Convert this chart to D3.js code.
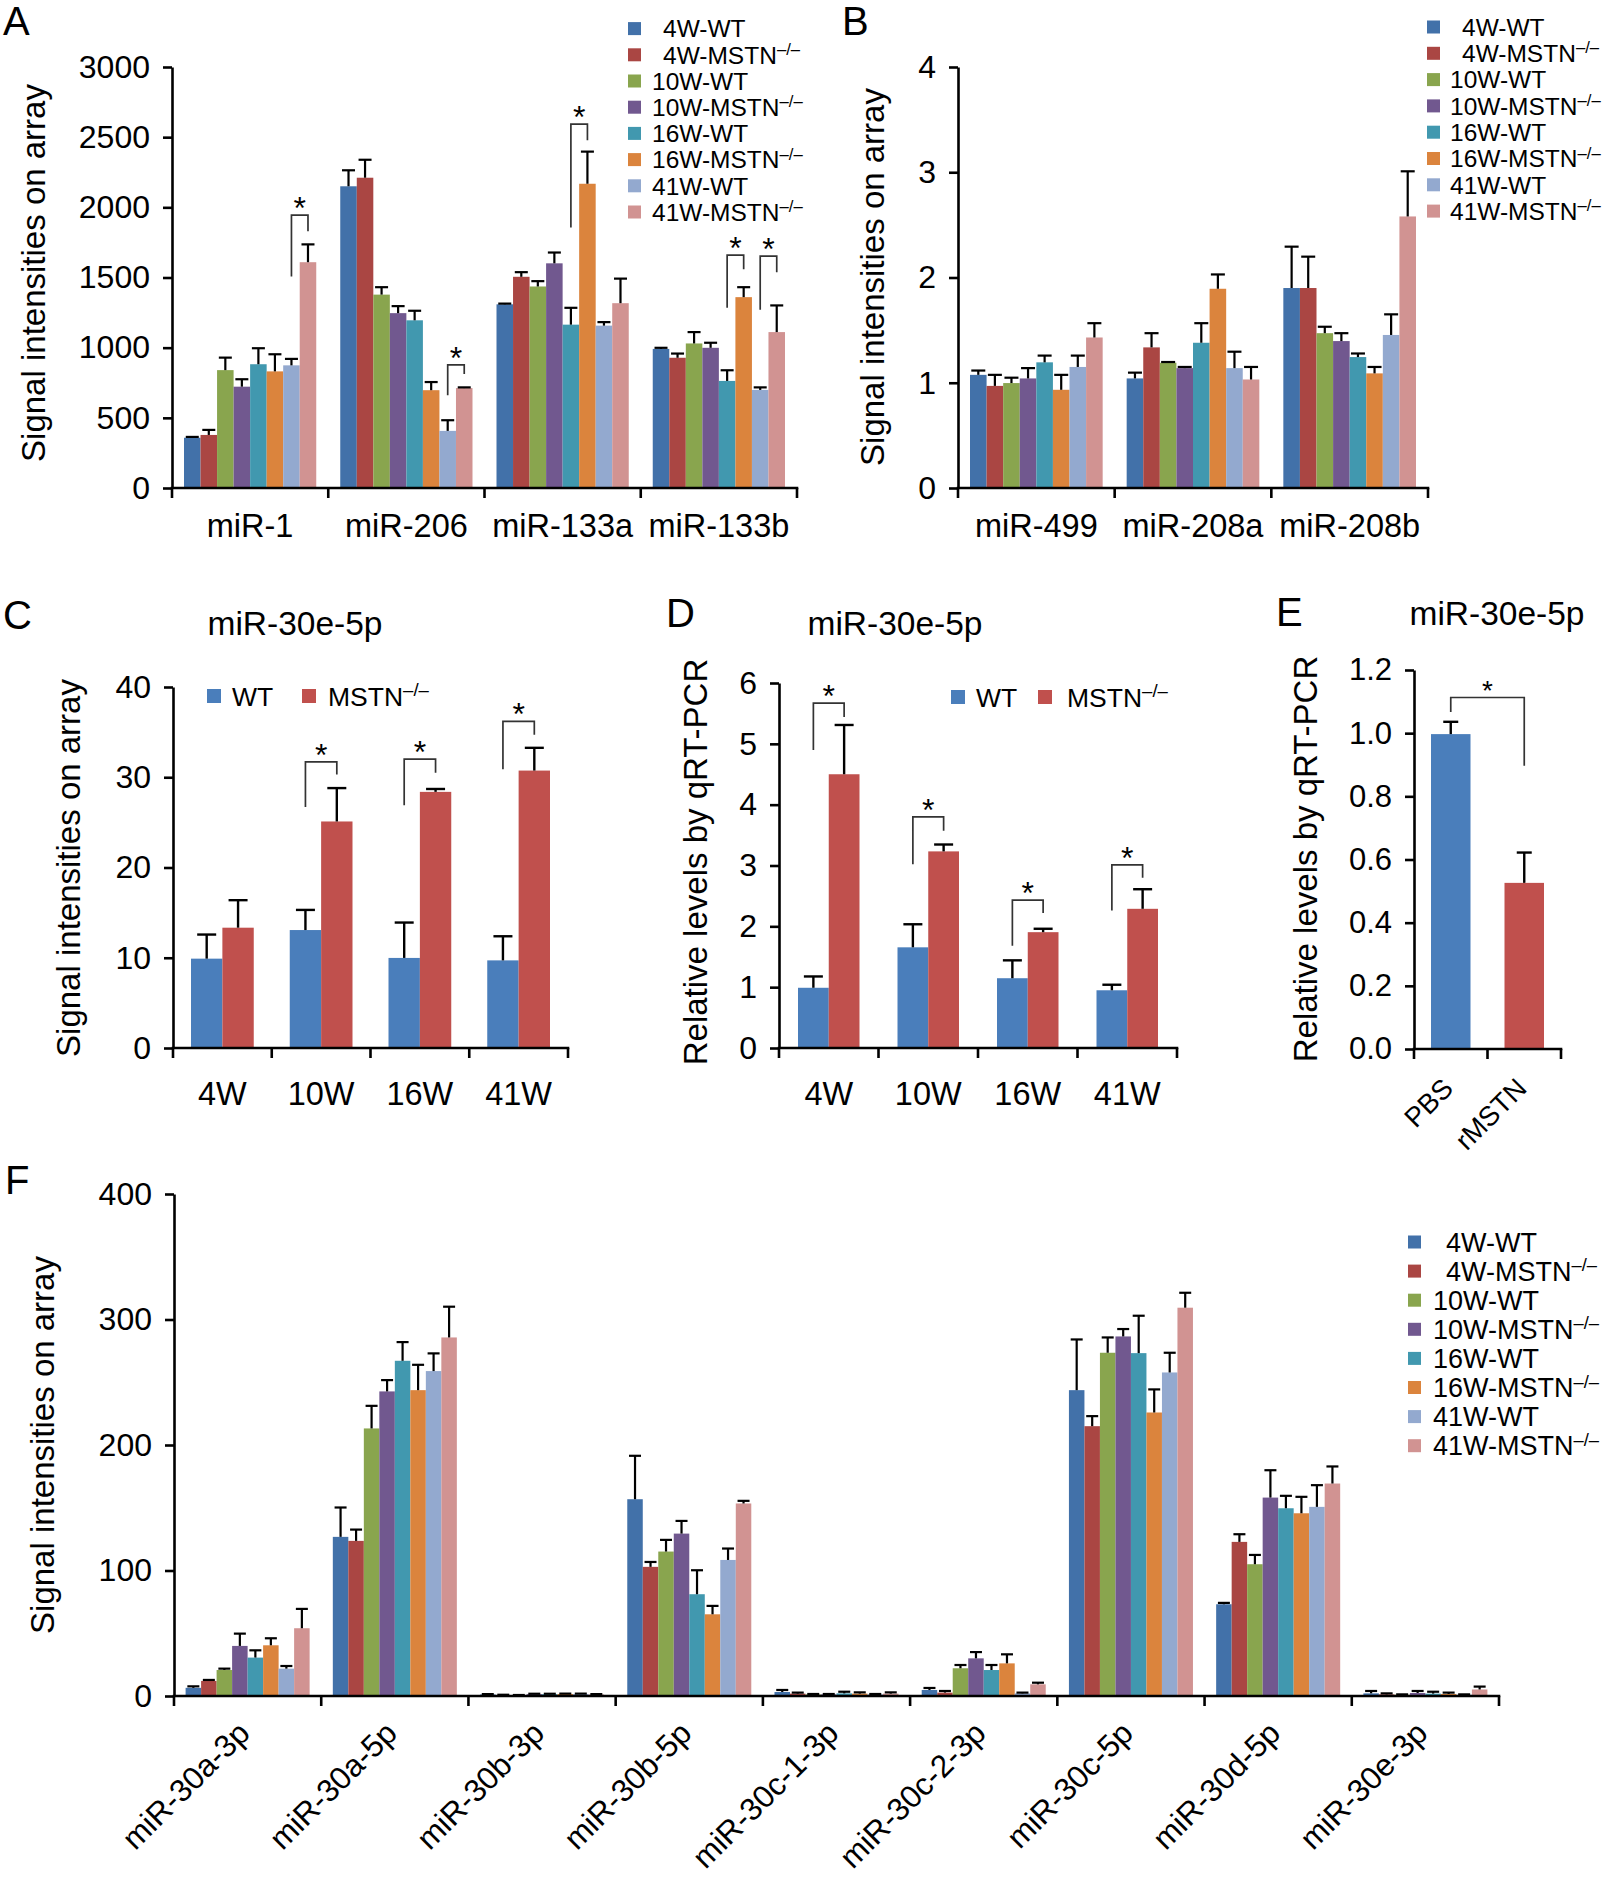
<!DOCTYPE html>
<html><head><meta charset="utf-8">
<script src="https://cdn.jsdelivr.net/npm/d3@7"></script>
<style>
body{margin:0;background:#fff;}
svg text{font-family:"Liberation Sans",Arial,Helvetica,sans-serif;fill:#000;}
</style></head><body>
<svg id="chart" width="1609" height="1880"></svg>
<script>
// ---------------- DATA ----------------
const seriesNames = ["4W-WT","4W-MSTN","10W-WT","10W-MSTN","16W-WT","16W-MSTN","41W-WT","41W-MSTN"];
const seriesColors = ["#4271A9","#AA4643","#89A54E","#71588F","#4198AF","#DB843D","#93A9CF","#D19392"];
const koSup = "\u2013/\u2013";
const pairNames = ["WT","MSTN"];
const pairColors = ["#4A7EBB","#C0504D"];

// Panel A
const catsA = ["miR-1","miR-206","miR-133a","miR-133b"];
const valsA = [
  [358, 378, 840, 722, 882, 831, 874, 1609],
  [2150, 2211, 1378, 1246, 1195, 697, 407, 712],
  [1309, 1505, 1436, 1601, 1164, 2168, 1157, 1317],
  [991, 928, 1030, 999, 763, 1360, 699, 1111]
];
const errA = [
  [6, 36, 89, 53, 114, 122, 46, 127],
  [114, 128, 53, 50, 68, 58, 76, 5],
  [5, 33, 38, 77, 120, 229, 25, 175],
  [8, 30, 81, 36, 76, 71, 18, 190]
];
const ticksA = [0,500,1000,1500,2000,2500,3000];
const sigA = [ // category index, from series, to series, left leg, top, right leg (value units)
  [0, 6, 7, 1507, 1945, 1830],
  [1, 6, 7, 661, 877, 813],
  [2, 4, 5, 1856, 2593, 2478],
  [3, 4, 5, 1284, 1660, 1558],
  [3, 6, 7, 1271, 1652, 1538]
];

// Panel B
const catsB = ["miR-499","miR-208a","miR-208b"];
const valsB = [
  [1.075, 0.970, 0.997, 1.041, 1.194, 0.933, 1.150, 1.430],
  [1.041, 1.336, 1.190, 1.139, 1.380, 1.893, 1.139, 1.031],
  [1.900, 1.900, 1.471, 1.396, 1.244, 1.089, 1.454, 2.580]
];
const errB = [
  [0.041, 0.105, 0.051, 0.098, 0.064, 0.142, 0.108, 0.136],
  [0.055, 0.135, 0.007, 0.011, 0.186, 0.136, 0.156, 0.119],
  [0.393, 0.298, 0.061, 0.075, 0.034, 0.061, 0.196, 0.429]
];
const ticksB = [0,1,2,3,4];

// Panel C
const catsC = ["4W","10W","16W","41W"];
const valsC = [[9.90, 13.33],[13.07, 25.10],[9.98, 28.38],[9.71, 30.74]];
const errC = [[2.67, 3.05],[2.23, 3.70],[3.92, 0.32],[2.67, 2.52]];
const ticksC = [0,10,20,30,40];
const sigC = [[1,0,1,26.7,31.7,30.3],[2,0,1,26.9,32.0,30.5],[3,0,1,30.9,36.2,34.7]];

// Panel D
const catsD = ["4W","10W","16W","41W"];
const valsD = [[0.99, 4.50],[1.655, 3.232],[1.147, 1.904],[0.949, 2.288]];
const errD = [[0.186, 0.81],[0.379, 0.113],[0.294, 0.056],[0.091, 0.322]];
const ticksD = [0,1,2,3,4,5,6];
const sigD = [[0,0,1,4.90,5.67,5.44],[1,0,1,3.02,3.80,3.57],[2,0,1,1.68,2.43,2.22],[3,0,1,2.26,3.01,2.80]];

// Panel E
const catsE = ["PBS","rMSTN"];
const valsE = [[0.997],[0.526]];
const errE = [[0.039],[0.096]];
const ticksE = [0,0.2,0.4,0.6,0.8,1.0,1.2];
const sigE = [1.067, 1.113, 0.897];

// Panel F
const catsF = ["miR-30a-3p","miR-30a-5p","miR-30b-3p","miR-30b-5p","miR-30c-1-3p","miR-30c-2-3p","miR-30c-5p","miR-30d-5p","miR-30e-3p"];
const valsF = [
  [6.5, 12, 20.7, 39.9, 30.6, 40.4, 21.8, 54],
  [126.8, 123.6, 213.2, 242.7, 267.1, 243.7, 258.9, 285.7],
  [1.2, 0.8, 0.6, 1.5, 1.5, 1.6, 1.6, 1.2],
  [156.8, 102.9, 115.1, 129.4, 81.1, 65.1, 108.4, 153.4],
  [3.2, 1.9, 1.3, 1.3, 2.1, 1.9, 1.3, 1.9],
  [4.8, 2.7, 22.1, 30, 20.7, 26, 2.1, 9.3],
  [243.7, 215, 273.5, 286.5, 273.2, 225.9, 257.8, 309.4],
  [73.1, 122.8, 105, 158.1, 149.6, 145.6, 150.7, 169.3],
  [2.1, 1.3, 1.0, 2.4, 1.9, 1.6, 1.0, 5.2]
];
const errF = [
  [1.2, 0.8, 1.1, 9.8, 5.8, 5.6, 2.1, 15.4],
  [23.4, 9, 18, 9, 14.9, 20.2, 14.1, 24.5],
  [0.3, 0.2, 0.2, 0.3, 0.3, 0.3, 0.3, 0.3],
  [34.6, 3.9, 9.3, 10.1, 19.1, 6.7, 9.1, 2.1],
  [1.6, 0.8, 0.3, 0.3, 1.3, 1.0, 0.3, 1.0],
  [1.6, 1.3, 2.6, 5, 4, 7.2, 0.6, 1.3],
  [40.4, 8, 12.2, 5.9, 29.8, 18.4, 15.7, 11.9],
  [1.1, 6.1, 7.4, 21.8, 9.9, 13.1, 17.3, 13.6],
  [1.9, 0.8, 0.3, 1.6, 1.5, 1.1, 0.3, 2.3]
];
const ticksF = [0,100,200,300,400];

// ---------------- DRAWING ----------------
const svg = d3.select("#chart");
const FONT = '"Liberation Sans", Arial, Helvetica, sans-serif';

function supLabel(sel, base, sup, supSize, supDy) {
  sel.append("tspan").text(base);
  if (sup) sel.append("tspan").attr("font-size", supSize).attr("dy", supDy).text(sup);
}

function barPanel(p) {
  const g = svg.append("g");
  const y = d3.scaleLinear().domain([0, p.yMax]).range([p.yBottom, p.yTop]);
  const x0 = d3.scaleBand().domain(p.cats).range([p.xLeft, p.xRight]).padding(0);
  const n = p.values[0].length;
  const x1 = d3.scaleBand().domain(d3.range(n)).range([p.gap, x0.bandwidth() - p.gap]).padding(0);
  const bw = x1.bandwidth();
  p.cats.forEach((c, i) => {
    const cg = g.append("g").attr("transform", `translate(${x0(c)},0)`);
    const rows = p.values[i].map((v, j) => ({v, e: p.errors[i][j], j}));
    cg.selectAll("rect").data(rows).join("rect")
      .attr("x", d => x1(d.j)).attr("y", d => y(d.v))
      .attr("width", bw).attr("height", d => y(0) - y(d.v))
      .attr("fill", d => p.color(i, d.j));
    cg.selectAll("line.ev").data(rows).join("line").attr("class","ev")
      .attr("x1", d => x1(d.j) + bw/2).attr("x2", d => x1(d.j) + bw/2)
      .attr("y1", d => y(d.v)).attr("y2", d => y(d.v + d.e))
      .attr("stroke", "#000").attr("stroke-width", p.errW);
    cg.selectAll("line.ec").data(rows).join("line").attr("class","ec")
      .attr("x1", d => x1(d.j) + bw/2 - p.capW/2).attr("x2", d => x1(d.j) + bw/2 + p.capW/2)
      .attr("y1", d => y(d.v + d.e)).attr("y2", d => y(d.v + d.e))
      .attr("stroke", "#000").attr("stroke-width", p.errW);
  });
  // y axis
  const yAxis = d3.axisLeft(y).tickValues(p.ticks).tickSize(p.tickSize).tickSizeOuter(0)
    .tickPadding(p.tickPad).tickFormat(p.fmt || d3.format("d"));
  const ya = g.append("g").attr("transform", `translate(${p.xLeft},0)`).call(yAxis);
  ya.attr("font-family", FONT).attr("font-size", p.tickFont);
  ya.selectAll("path,line").attr("stroke", "#000").attr("stroke-width", p.axisW);
  ya.selectAll("text").attr("fill", "#000");
  // x axis
  g.append("line").attr("x1", p.xLeft - p.axisW/2).attr("x2", p.xRight + p.axisW/2)
    .attr("y1", y(0)).attr("y2", y(0)).attr("stroke", "#000").attr("stroke-width", p.axisW);
  const bounds = p.cats.map(c => x0(c)).concat([p.xRight]);
  g.selectAll("line.xt").data(bounds).join("line").attr("class","xt")
    .attr("x1", d => d).attr("x2", d => d).attr("y1", y(0)).attr("y2", y(0) + p.xTickLen)
    .attr("stroke", "#000").attr("stroke-width", p.axisW);
  // category labels
  p.cats.forEach(c => {
    const cx = x0(c) + x0.bandwidth()/2;
    if (p.rotate) {
      g.append("text").attr("transform", `translate(${cx + p.labelDx},${p.labelY}) rotate(-45)`)
        .attr("text-anchor", "end").attr("font-size", p.catFont).text(c);
    } else {
      g.append("text").attr("x", cx).attr("y", p.labelY).attr("text-anchor", "middle")
        .attr("font-size", p.catFont).text(c);
    }
  });
  // y title
  g.append("text").attr("transform", `translate(${p.yTitleX},${p.yTitleY}) rotate(-90)`)
    .attr("text-anchor", "middle").attr("dy", "0.36em").attr("font-size", p.titleFont).text(p.yTitle);
  // significance brackets
  (p.sig || []).forEach(s => {
    const c = p.cats[s[0]];
    const xa = x0(c) + x1(s[1]) + bw/2, xb = x0(c) + x1(s[2]) + bw/2;
    g.append("path").attr("d", `M${xa},${y(s[3])}V${y(s[4])}H${xb}V${y(s[5])}`)
      .attr("fill", "none").attr("stroke", "#333").attr("stroke-width", 1.7);
    g.append("text").attr("x", (xa + xb)/2).attr("y", y(s[4]) + p.starDy)
      .attr("text-anchor", "middle").attr("font-size", p.starFont).text("*");
  });
  return {x0, x1, y, bw, g};
}

function legendCol(o) {
  const g = svg.append("g");
  seriesNames.forEach((nm, i) => {
    const cy = o.y0 + i * o.dy;
    g.append("rect").attr("x", o.sqX).attr("y", cy - o.sq/2).attr("width", o.sq).attr("height", o.sq)
      .attr("fill", seriesColors[i]);
    const t = g.append("text").attr("x", nm.startsWith("4W") ? o.tx4 : o.tx).attr("y", cy + o.font*0.36)
      .attr("font-size", o.font);
    const isKO = nm.endsWith("MSTN");
    supLabel(t, nm, isKO ? koSup : null, o.font*0.68, -o.font*0.36);
  });
}

function legendRow(o) {
  const g = svg.append("g");
  pairNames.forEach((nm, i) => {
    g.append("rect").attr("x", o.sqX[i]).attr("y", o.cy - o.sq/2).attr("width", o.sq).attr("height", o.sq)
      .attr("fill", pairColors[i]);
    const t = g.append("text").attr("x", o.tx[i]).attr("y", o.cy + o.font*0.36).attr("font-size", o.font);
    supLabel(t, nm, nm === "MSTN" ? koSup : null, o.font*0.7, -o.font*0.36);
  });
}

function plainText(x, y, txt, size, anchor) {
  svg.append("text").attr("x", x).attr("y", y).attr("font-size", size)
    .attr("text-anchor", anchor || "start").text(txt);
}

const common = {tickSize: 9, tickPad: 13, tickFont: 32, axisW: 2.6, xTickLen: 10, errW: 2.2,
  catFont: 32.5, titleFont: 33, starFont: 32, starDy: 4, yTitle: "Signal intensities on array"};

// A
barPanel(Object.assign({}, common, {cats: catsA, values: valsA, errors: errA, color: (i,j) => seriesColors[j],
  xLeft: 172, xRight: 797, yTop: 67, yBottom: 488, yMax: 3000, ticks: ticksA, gap: 12, capW: 13,
  labelY: 537, yTitleX: 33, yTitleY: 273, sig: sigA}));
legendCol({sqX: 628, sq: 13, y0: 28.6, dy: 26.2, tx: 652, tx4: 663, font: 24.5});
plainText(3, 35, "A", 40);

// B
barPanel(Object.assign({}, common, {cats: catsB, values: valsB, errors: errB, color: (i,j) => seriesColors[j],
  xLeft: 958, xRight: 1428, yTop: 67, yBottom: 488, yMax: 4, ticks: ticksB, gap: 12, capW: 14,
  labelY: 537, yTitleX: 872, yTitleY: 277}));
legendCol({sqX: 1427, sq: 13, y0: 27, dy: 26.3, tx: 1450, tx4: 1462, font: 24.5});
plainText(842, 35, "B", 40);

// C
barPanel(Object.assign({}, common, {cats: catsC, values: valsC, errors: errC, color: (i,j) => pairColors[j],
  xLeft: 173, xRight: 568, yTop: 687, yBottom: 1048, yMax: 40, ticks: ticksC, gap: 18, capW: 19, errW: 2.4,
  labelY: 1105, yTitleX: 68, yTitleY: 868, sig: sigC}));
legendRow({sqX: [207, 302], tx: [232, 328], cy: 696, sq: 14, font: 26.5});
plainText(3, 629, "C", 40);
plainText(295, 635, "miR-30e-5p", 33.5, "middle");

// D
barPanel(Object.assign({}, common, {cats: catsD, values: valsD, errors: errD, color: (i,j) => pairColors[j],
  xLeft: 779, xRight: 1177, yTop: 683, yBottom: 1048, yMax: 6, ticks: ticksD, gap: 19, capW: 19, errW: 2.4,
  labelY: 1105, yTitleX: 695, yTitleY: 862, yTitle: "Relative levels by qRT-PCR", sig: sigD}));
legendRow({sqX: [951, 1038], tx: [976, 1067], cy: 697, sq: 14, font: 26.5});
plainText(666, 627, "D", 40);
plainText(895, 635, "miR-30e-5p", 33.5, "middle");

// E
const pE = barPanel(Object.assign({}, common, {cats: catsE, values: valsE, errors: errE, color: (i,j) => pairColors[i],
  xLeft: 1414, xRight: 1561, yTop: 670, yBottom: 1049, yMax: 1.2, ticks: ticksE, fmt: d3.format(".1f"),
  tickFont: 31, gap: 17, capW: 15, errW: 2.4, rotate: true, labelDx: 4, labelY: 1090, catFont: 27.5,
  yTitleX: 1305, yTitleY: 859, yTitle: "Relative levels by qRT-PCR"}));
{
  const xa = pE.x0(catsE[0]) + pE.x1(0) + pE.bw/2, xb = pE.x0(catsE[1]) + pE.x1(0) + pE.bw/2;
  pE.g.append("path").attr("d", `M${xa},${pE.y(sigE[0])}V${pE.y(sigE[1])}H${xb}V${pE.y(sigE[2])}`)
    .attr("fill", "none").attr("stroke", "#333").attr("stroke-width", 1.7);
  pE.g.append("text").attr("x", (xa + xb)/2).attr("y", pE.y(sigE[1]) + 3).attr("text-anchor", "middle")
    .attr("font-size", 28).text("*");
}
plainText(1276, 626, "E", 40);
plainText(1497, 625, "miR-30e-5p", 33.5, "middle");

// F
barPanel(Object.assign({}, common, {cats: catsF, values: valsF, errors: errF, color: (i,j) => seriesColors[j],
  xLeft: 174, xRight: 1499, yTop: 1194, yBottom: 1696, yMax: 400, ticks: ticksF, gap: 11.6, capW: 12,
  rotate: true, labelDx: 4, labelY: 1735, catFont: 31.5, yTitleX: 42, yTitleY: 1445}));
legendCol({sqX: 1408, sq: 13, y0: 1242, dy: 29.1, tx: 1433, tx4: 1446, font: 27});
plainText(5, 1194, "F", 40);
</script>
</body></html>
